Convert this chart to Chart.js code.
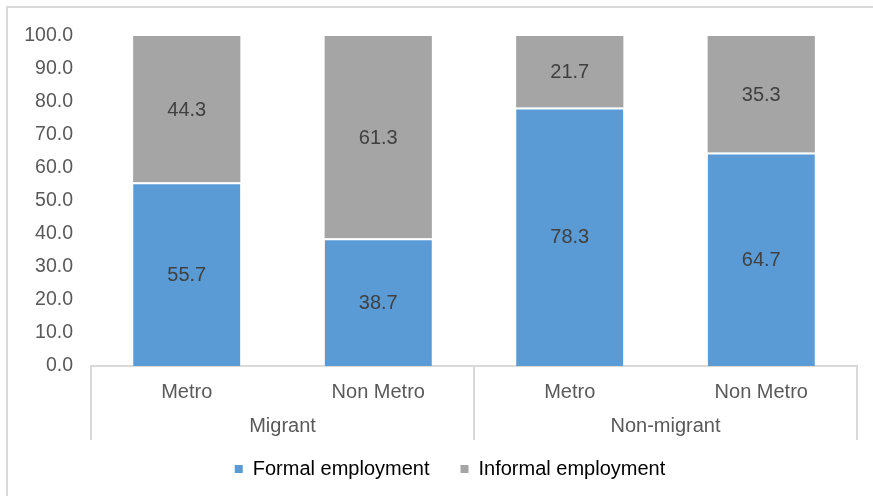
<!DOCTYPE html>
<html>
<head>
<meta charset="utf-8">
<script src="https://cdn.jsdelivr.net/npm/chart.js@4"></script>
<style>
  html, body { margin: 0; padding: 0; background: #fff; }
  #wrap { position: relative; width: 873px; height: 496px; overflow: hidden; }
  #frame { position: absolute; left: 6px; top: 6px; width: 884px; height: 520px; border: 2px solid #d9d9d9; }
  #chart { position: absolute; left: 0; top: 0; }
</style>
</head>
<body>
<div id="wrap">
  <div id="frame"></div>
  <canvas id="chart" width="873" height="496"></canvas>
</div>
<script>
// Employment type by migration status and location (%)
const categories = ['Metro', 'Non Metro', 'Metro', 'Non Metro'];
const groups = ['Migrant', 'Non-migrant'];
const formal = [55.7, 38.7, 78.3, 64.7];
const informal = [44.3, 61.3, 21.7, 35.3];
const yTicks = [0, 10, 20, 30, 40, 50, 60, 70, 80, 90, 100];

const FONT = '"Liberation Sans", Arial, sans-serif';
const LINE = '#d9d9d9';
const frameCenter = 450; // legend is centred on the outer frame, not the canvas

// value labels centred inside each stacked segment
const segmentLabels = {
    id: 'segmentLabels',
    afterDatasetsDraw(chart) {
        const ctx = chart.ctx;
        ctx.save();
        ctx.font = '20px ' + FONT;
        ctx.fillStyle = '#404040';
        ctx.textAlign = 'center';
        ctx.textBaseline = 'middle';
        chart.data.datasets.forEach((ds, i) => {
            chart.getDatasetMeta(i).data.forEach((bar, j) => {
                ctx.fillText(ds.data[j].toFixed(1), bar.x, (bar.y + bar.base) / 2 + 1);
            });
        });
        ctx.restore();
    }
};

// two-level category axis: group separators and group names
const groupAxis = {
    id: 'groupAxis',
    afterLayout(chart) {
        const lg = chart.legend;
        const shift = frameCenter - (lg.left + lg.right) / 2;
        lg.left += shift;
        lg.right += shift;
    },
    afterDraw(chart) {
        const ctx = chart.ctx;
        const x = chart.scales.x;
        const top = chart.chartArea.bottom;
        const bottom = top + 74;
        const per = categories.length / groups.length;
        ctx.save();
        ctx.strokeStyle = LINE;
        ctx.lineWidth = 2;
        for (let g = 0; g <= groups.length; g++) {
            let px;
            if (g === 0) px = x.left;
            else if (g === groups.length) px = x.right;
            else px = (x.getPixelForValue(g * per - 1) + x.getPixelForValue(g * per)) / 2;
            ctx.beginPath();
            ctx.moveTo(px, top);
            ctx.lineTo(px, bottom);
            ctx.stroke();
        }
        ctx.font = '20px ' + FONT;
        ctx.fillStyle = '#595959';
        ctx.textAlign = 'center';
        ctx.textBaseline = 'middle';
        groups.forEach((name, g) => {
            const cx = (x.getPixelForValue(g * per) + x.getPixelForValue(g * per + per - 1)) / 2;
            ctx.fillText(name, cx, top + 60);
        });
        ctx.restore();
    }
};

new Chart(document.getElementById('chart'), {
    type: 'bar',
    data: {
        labels: categories,
        datasets: [{
            label: 'Formal employment',
            data: formal,
            backgroundColor: '#5b9bd5',
            borderColor: '#ffffff',
            borderWidth: { top: 2, bottom: 0, left: 0, right: 0 },
            borderSkipped: false,
            barPercentage: 0.56,
            categoryPercentage: 1
        }, {
            label: 'Informal employment',
            data: informal,
            backgroundColor: '#a5a5a5',
            borderColor: '#ffffff',
            borderWidth: 0,
            barPercentage: 0.56,
            categoryPercentage: 1
        }]
    },
    options: {
        responsive: false,
        animation: false,
        layout: { padding: { top: 36, left: 0, right: 16, bottom: 7 } },
        plugins: {
            legend: {
                position: 'bottom',
                labels: {
                    font: { size: 20, family: FONT },
                    color: '#595959',
                    boxWidth: 8,
                    boxHeight: 8,
                    padding: 31,
                    generateLabels(chart) {
                        return chart.data.datasets.map((ds, i) => ({
                            text: ds.label,
                            fillStyle: ds.backgroundColor,
                            strokeStyle: ds.backgroundColor,
                            lineWidth: 0,
                            datasetIndex: i
                        }));
                    }
                }
            },
            tooltip: { enabled: false }
        },
        scales: {
            x: {
                stacked: true,
                grid: { display: false, drawTicks: false },
                border: { display: true, color: LINE, width: 2 },
                ticks: { font: { size: 20, family: FONT }, color: '#595959', padding: 14 },
                afterFit(scale) { scale.height = 62; }
            },
            y: {
                stacked: true,
                min: 0,
                max: 100,
                grid: { display: false, drawTicks: false },
                border: { display: false },
                afterBuildTicks(scale) { scale.ticks = yTicks.map(v => ({ value: v })); },
                ticks: {
                    font: { size: 19.5, family: FONT },
                    color: '#595959',
                    padding: 18,
                    callback: v => v.toFixed(1)
                },
                afterFit(scale) { scale.width = 91; }
            }
        }
    },
    plugins: [segmentLabels, groupAxis]
});
</script>
</body>
</html>
